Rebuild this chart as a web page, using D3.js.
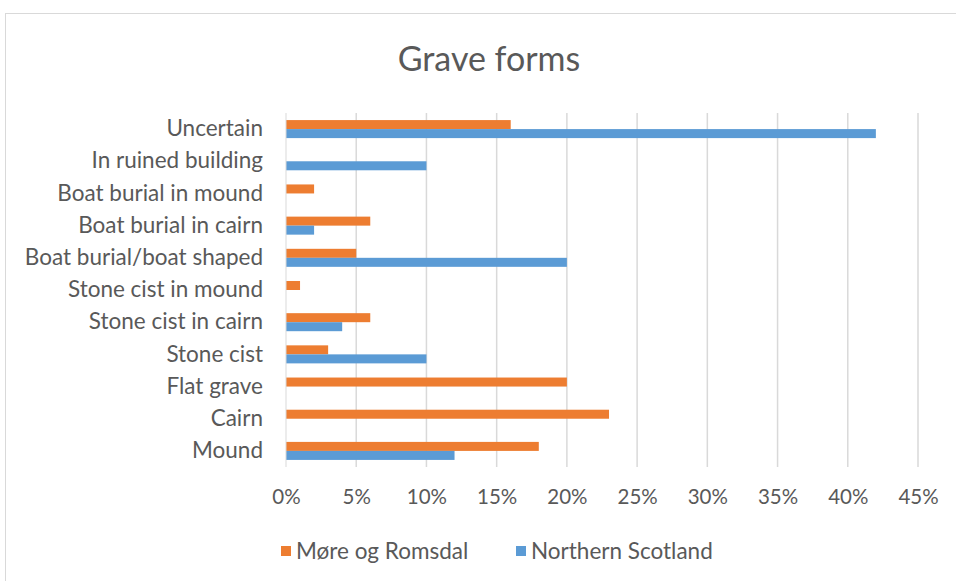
<!DOCTYPE html>
<html>
<head>
<meta charset="utf-8">
<script src="https://cdn.jsdelivr.net/npm/d3@7"></script>
<style>
  body { margin: 0; background: #fff; }
  text { font-family: Lato, "Open Sans", sans-serif; fill: #595959; }
</style>
</head>
<body>
<svg id="chart" width="956" height="581"></svg>
<script>
// categories top to bottom
const categories = ["Uncertain", "In ruined building", "Boat burial in mound", "Boat burial in cairn",
  "Boat burial/boat shaped", "Stone cist in mound", "Stone cist in cairn", "Stone cist",
  "Flat grave", "Cairn", "Mound"];
const series = ["Møre og Romsdal", "Northern Scotland"];
const more = [16, 0, 2, 6, 5, 1, 6, 3, 20, 23, 18];
const scotland = [42, 10, 0, 2, 20, 0, 4, 10, 0, 0, 12];
const ticks = [0, 5, 10, 15, 20, 25, 30, 35, 40, 45];
const colors = ["#ED7D31", "#5B9BD5"];

const plotLeft = 286, plotRight = 918, plotTop = 113, plotBottom = 467;

const svg = d3.select("#chart");

// chart border
svg.append("rect")
  .attr("x", 5.5).attr("y", 13.5)
  .attr("width", 970).attr("height", 600)
  .attr("fill", "#fff")
  .attr("stroke", "#d9d9d9");

svg.append("text")
  .attr("x", 489).attr("y", 71)
  .attr("text-anchor", "middle")
  .style("font-size", "34px")
  .text("Grave forms");

const x = d3.scaleLinear().domain([0, 45]).range([plotLeft, plotRight]);
const y = d3.scaleBand().domain(categories).range([plotTop, plotBottom])
  .paddingInner(0.44).paddingOuter(0.22);
const ySub = d3.scaleBand().domain(series).range([0, y.bandwidth()]);

// gridlines
svg.append("g")
  .selectAll("line")
  .data(ticks.slice(1))
  .join("line")
  .attr("x1", d => x(d)).attr("x2", d => x(d))
  .attr("y1", plotTop).attr("y2", plotBottom)
  .attr("stroke", "#d9d9d9")
  .attr("stroke-width", 1.5);

// bars
const rows = categories.map((c, i) => ({ cat: c, vals: [more[i], scotland[i]] }));
const groups = svg.append("g")
  .selectAll("g")
  .data(rows)
  .join("g")
  .attr("transform", d => `translate(0,${y(d.cat)})`);

groups.selectAll("rect")
  .data(d => d.vals.map((v, k) => ({ s: series[k], v, k })))
  .join("rect")
  .attr("x", x(0))
  .attr("y", d => ySub(d.s))
  .attr("width", d => x(d.v) - x(0))
  .attr("height", ySub.bandwidth())
  .attr("fill", d => colors[d.k]);

// zero axis line
svg.append("line")
  .attr("x1", x(0)).attr("x2", x(0))
  .attr("y1", plotTop).attr("y2", plotBottom)
  .attr("stroke", "#d9d9d9")
  .attr("stroke-width", 1);

// category labels
const yAxis = d3.axisLeft(y).tickSize(0).tickPadding(23);
svg.append("g")
  .attr("transform", `translate(${x(0)},0)`)
  .call(yAxis)
  .call(g => g.select(".domain").remove())
  .selectAll("text")
  .style("font-size", "22.5px")
  .attr("fill", "#595959");

// x tick labels
const xAxis = d3.axisBottom(x).tickValues(ticks).tickFormat(d => d + "%").tickSize(0).tickPadding(22);
svg.append("g")
  .attr("transform", `translate(0,${plotBottom})`)
  .call(xAxis)
  .call(g => g.select(".domain").remove())
  .selectAll("text")
  .style("font-size", "20.5px")
  .attr("fill", "#595959");

// legend
const legendPos = [281, 516];
const legend = svg.append("g")
  .selectAll("g")
  .data(series)
  .join("g")
  .attr("transform", (d, i) => `translate(${legendPos[i]},546)`);
legend.append("rect")
  .attr("width", 10).attr("height", 10)
  .attr("fill", (d, i) => colors[i]);
legend.append("text")
  .attr("x", 15).attr("y", 5)
  .attr("dy", "0.35em")
  .style("font-size", "22.5px")
  .text(d => d);
</script>
</body>
</html>
